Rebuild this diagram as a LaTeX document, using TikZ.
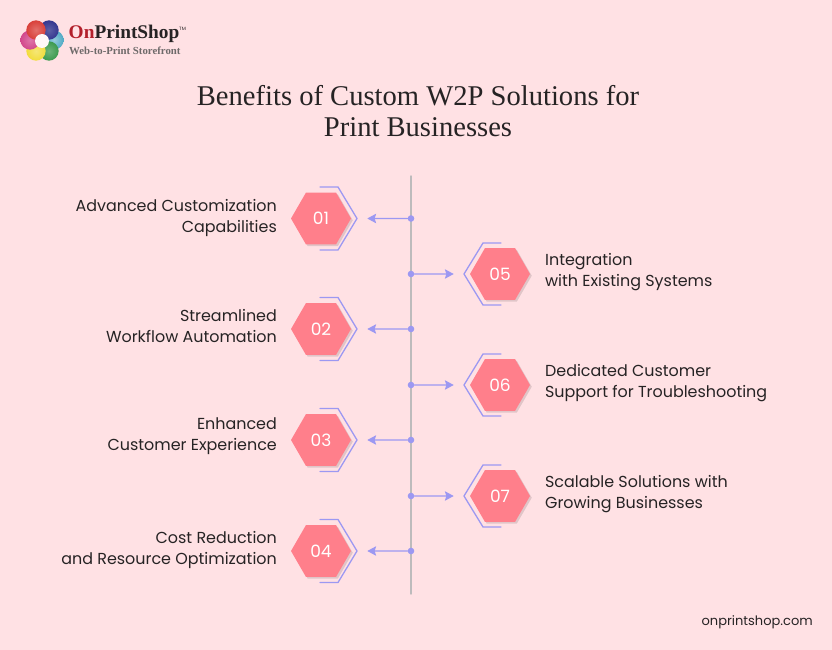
\documentclass[tikz,border=0pt]{standalone}
\usepackage{xcolor}
\usepackage{fontspec}
\setmainfont{Poppins}
\newfontfamily\titlefont{Liberation Serif}
\usetikzlibrary{arrows.meta,shapes.geometric,shadows}
\definecolor{custom_bg}{HTML}{FFE1E4}
\definecolor{custom_hex}{HTML}{FF7F8B}
\definecolor{custom_purple}{HTML}{9C98F2}
\definecolor{custom_spine}{HTML}{BDBBBC}
\definecolor{custom_text}{HTML}{262324}
\definecolor{custom_red}{HTML}{B3202C}
\definecolor{custom_gray}{HTML}{6E6A6A}
\definecolor{petal_teal}{HTML}{4FA9C4}
\definecolor{petal_green}{HTML}{3C9A4E}
\definecolor{petal_yellow}{HTML}{F2DC3C}
\definecolor{petal_pink}{HTML}{D2478C}
\definecolor{petal_navy}{HTML}{34378F}
\definecolor{petal_red}{HTML}{D9403A}

\begin{document}
\begin{tikzpicture}[
                x=0.03cm,
                y=-0.03cm,
                line cap=round,
                line join=round,
                hexnode/.style={regular polygon, regular polygon sides=6, minimum size=1.8cm, inner sep=0pt,
                    fill=custom_hex, text=white, font=\fontsize{14.5}{17}\selectfont,
                    general shadow={shadow xshift=1.5pt, shadow yshift=-1.5pt, fill=black, opacity=0.12}},
                bracket/.style={custom_purple, line width=1.1pt},
                pointer/.style={custom_purple, line width=1.1pt, -{Stealth[length=7.5pt,width=8pt,inset=1.2pt]}, shorten >=0.48cm},
                pdot/.style={circle, fill=custom_purple, inner sep=0pt, minimum size=5.6pt},
                lefttext/.style={anchor=east, align=right, text=custom_text, font=\fontsize{13.6}{18}\selectfont},
                righttext/.style={anchor=west, align=left, text=custom_text, font=\fontsize{13.6}{18}\selectfont},
                petal/.style={circle, inner sep=0pt, minimum size=0.58cm, shading=radial}
            ]
            % Background and page size
            \fill[custom_bg] (0,0) rectangle (832,650);
            \useasboundingbox (0,0) rectangle (832,650);

            % Logo
            \node[petal, inner color=petal_teal!60!white, outer color=petal_teal] (petal3) at (54,40) {};
            \node[petal, inner color=petal_green!75!white, outer color=petal_green] (petal4) at (49,51) {};
            \node[petal, inner color=petal_yellow!70!white, outer color=petal_yellow] (petal5) at (36,51) {};
            \node[petal, inner color=petal_pink!75!white, outer color=petal_pink] (petal6) at (30,40) {};
            \node[petal, inner color=petal_navy!80!white, outer color=petal_navy] (petal2) at (49,30) {};
            \node[petal, inner color=petal_red!75!white, outer color=petal_red] (petal1) at (36,30) {};
            \node[circle, fill=custom_bg!25!white, inner sep=0pt, minimum size=0.42cm] (petalhole) at (42,41) {};
            \node[anchor=west, inner sep=0pt, font=\titlefont\bfseries\fontsize{16.5}{18}\selectfont] (logoname) at (68.5,33.5)
                {\textcolor{custom_red}{On}\textcolor{custom_text}{PrintShop}};
            \node[anchor=west, inner sep=0pt, text=custom_text, font=\fontsize{4}{4}\selectfont] (logotm) at (179,28.5) {TM};
            \node[anchor=west, inner sep=0pt, text=custom_gray, font=\titlefont\bfseries\fontsize{9.2}{10}\selectfont] (logotag) at (69,51)
                {Web-to-Print Storefront};

            % Title
            \node[align=center, text=custom_text, font=\titlefont\fontsize{24.4}{26.5}\selectfont] (title) at (418,111.5)
                {Benefits of Custom W2P Solutions for\\Print Businesses};

            % Draw the spine
            \coordinate (spinetop) at (411,176);
            \coordinate (spinebot) at (411,594);
            \draw[custom_spine, line width=1.2pt] (spinetop) -- (spinebot);

            % Hexagons on the left
            \node[hexnode] (hex1) at (321,218.5) {01};
            \node[hexnode] (hex2) at (321,329) {02};
            \node[hexnode] (hex3) at (321,440) {03};
            \node[hexnode] (hex4) at (321,551) {04};

            % Hexagons on the right
            \node[hexnode] (hex5) at (500,274) {05};
            \node[hexnode] (hex6) at (500,385) {06};
            \node[hexnode] (hex7) at (500,496) {07};

            % Brackets, left side
            \draw[bracket] ([shift={(-1,-31.5)}]hex1.center) -- ++(18,0) -- ++(19,31.5) -- ++(-19,31.5) -- ++(-18,0);
            \draw[bracket] ([shift={(-1,-31.5)}]hex2.center) -- ++(18,0) -- ++(19,31.5) -- ++(-19,31.5) -- ++(-18,0);
            \draw[bracket] ([shift={(-1,-31.5)}]hex3.center) -- ++(18,0) -- ++(19,31.5) -- ++(-19,31.5) -- ++(-18,0);
            \draw[bracket] ([shift={(-1,-31.5)}]hex4.center) -- ++(18,0) -- ++(19,31.5) -- ++(-19,31.5) -- ++(-18,0);

            % Brackets, right side
            \draw[bracket] ([shift={(1,-31)}]hex5.center) -- ++(-18,0) -- ++(-19,31) -- ++(19,31) -- ++(18,0);
            \draw[bracket] ([shift={(1,-31)}]hex6.center) -- ++(-18,0) -- ++(-19,31) -- ++(19,31) -- ++(18,0);
            \draw[bracket] ([shift={(1,-31)}]hex7.center) -- ++(-18,0) -- ++(-19,31) -- ++(19,31) -- ++(18,0);

            % Dots on the spine
            \node[pdot] (dot1) at (411,218.5) {};
            \node[pdot] (dot2) at (411,329) {};
            \node[pdot] (dot3) at (411,440) {};
            \node[pdot] (dot4) at (411,551) {};
            \node[pdot] (dot5) at (411,274) {};
            \node[pdot] (dot6) at (411,385) {};
            \node[pdot] (dot7) at (411,496) {};

            % Pointers from dots to hexagons
            \draw[pointer] (dot1) -- (hex1);
            \draw[pointer] (dot2) -- (hex2);
            \draw[pointer] (dot3) -- (hex3);
            \draw[pointer] (dot4) -- (hex4);
            \draw[pointer] (dot5) -- (hex5);
            \draw[pointer] (dot6) -- (hex6);
            \draw[pointer] (dot7) -- (hex7);

            % Labels
            \node[lefttext] (label1) at (281,218) {Advanced Customization\\Capabilities};
            \node[lefttext] (label2) at (281,326) {Streamlined\\Workflow Automation};
            \node[lefttext] (label3) at (281,436) {Enhanced\\Customer Experience};
            \node[lefttext] (label4) at (281,550) {Cost Reduction\\and Resource Optimization};
            \node[righttext] (label5) at (541,272) {Integration\\with Existing Systems};
            \node[righttext] (label6) at (541,383) {Dedicated Customer\\Support for Troubleshooting};
            \node[righttext] (label7) at (541,494) {Scalable Solutions with\\Growing Businesses};

            % Site name
            \node[anchor=east, inner sep=0pt, text=custom_text, font=\fontsize{11.1}{12}\selectfont] (site) at (813,622) {onprintshop.com};
        \end{tikzpicture}
\end{document}
